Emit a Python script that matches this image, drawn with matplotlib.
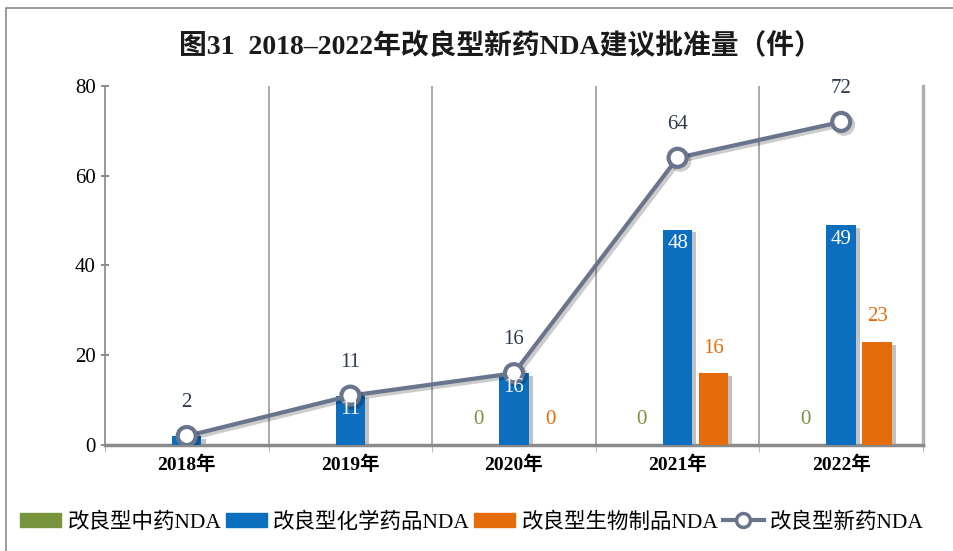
import numpy as np
import matplotlib
matplotlib.use("Agg")
from matplotlib import pyplot as plt
from matplotlib.patches import Patch, Rectangle
from matplotlib.lines import Line2D
import matplotlib.patheffects as pe

plt.rcParams['font.family'] = ['Liberation Serif', 'Noto Sans CJK SC']

years = ['2018年', '2019年', '2020年', '2021年', '2022年']
tcm_nda = [0, 0, 0, 0, 0]
chem_nda = [2, 11, 16, 48, 49]
bio_nda = [0, 0, 0, 16, 23]
total_nda = [2, 11, 16, 64, 72]
# which bars carry a value label in the picture
tcm_labeled = [False, False, True, True, True]
chem_labeled = [False, True, True, True, True]
bio_labeled = [False, False, True, True, True]

names = ['改良型中药NDA', '改良型化学药品NDA', '改良型生物制品NDA', '改良型新药NDA']
c_green = '#77933c'
c_blue = '#0b6ebf'
c_orange = '#e46c0a'
c_line = '#68758c'

fig = plt.figure(figsize=(9.54, 5.51), dpi=100)
# outer frame
fig.patches.append(Rectangle((0.006, -0.01), 1.2, 0.995, transform=fig.transFigure,
                             fill=False, edgecolor='#8a8a8a', linewidth=1.2))
ax = fig.add_axes([0.110, 0.1924, 0.8575, 0.6515])

x = np.arange(len(years))
w = 0.18
off = 0.22
shadow = [pe.SimplePatchShadow(offset=(3, -2), shadow_rgbFace='#9a9a9a', alpha=0.6), pe.Normal()]

ax.bar(x - off, tcm_nda, w, color=c_green, zorder=3, path_effects=shadow)
ax.bar(x, chem_nda, w, color=c_blue, zorder=3, path_effects=shadow)
ax.bar(x + off, bio_nda, w, color=c_orange, zorder=3, path_effects=shadow)

ax.plot(x, total_nda, color=c_line, lw=3, marker='o', ms=13, mfc='white', mec=c_line,
        mew=3, zorder=5,
        path_effects=[pe.SimpleLineShadow(offset=(2, -2), alpha=0.2), pe.Normal()])

fs = 15
for i in range(len(years)):
    ax.annotate(str(total_nda[i]), (x[i], total_nda[i]), xytext=(0, 24), textcoords='offset points',
                ha='center', va='center', fontsize=fs, color='#2f3a4d', zorder=6)
    if chem_labeled[i]:
        ax.annotate(str(chem_nda[i]), (x[i], chem_nda[i]), xytext=(0, -10), textcoords='offset points',
                    ha='center', va='center', fontsize=fs, color='white', zorder=6)
    if tcm_labeled[i]:
        ax.annotate(str(tcm_nda[i]), (x[i] - off, tcm_nda[i]), xytext=(0, 18), textcoords='offset points',
                    ha='center', va='center', fontsize=fs, color=c_green, zorder=6)
    if bio_labeled[i]:
        ax.annotate(str(bio_nda[i]), (x[i] + off, bio_nda[i]), xytext=(0, 18), textcoords='offset points',
                    ha='center', va='center', fontsize=fs, color=c_orange, zorder=6)

ax.set_xlim(-0.5, len(years) - 0.5)
ax.set_ylim(0, 80)
ax.set_yticks([0, 20, 40, 60, 80])
ax.set_xticks(x)
ax.set_xticklabels(years, fontsize=14, fontweight='bold')
ax.tick_params(axis='x', length=0, pad=8)
ax.tick_params(axis='y', labelsize=15, length=6, direction='inout', color='#777777', width=1.2)
ax.set_xticks(np.arange(len(years) + 1) - 0.5, minor=True)
ax.tick_params(axis='x', which='minor', length=5, color='#aaaaaa')

for b in np.arange(1, len(years)) - 0.5:
    ax.axvline(b, color='#9a9a9a', lw=1.2, zorder=1)

ax.spines['top'].set_visible(False)
ax.spines['right'].set_color('#b0b0b0')
ax.spines['right'].set_linewidth(2.5)
ax.spines['left'].set_color('#888888')
ax.spines['left'].set_linewidth(1.2)
ax.spines['bottom'].set_color('#8a8a8a')
ax.spines['bottom'].set_linewidth(2.5)

fig.text(0.525, 0.915, '图31  2018–2022年改良型新药NDA建议批准量（件）', ha='center', va='center',
         fontsize=20, fontweight='bold', color='#1a1a1a')

handles = [Patch(color=c_green), Patch(color=c_blue), Patch(color=c_orange),
           Line2D([], [], color=c_line, lw=3, marker='o', ms=10, mfc='white', mec=c_line, mew=2.5)]
fig.legend(handles, names, loc='center', bbox_to_anchor=(0.495, 0.052), ncol=4, frameon=False,
           fontsize=15.5, handlelength=1.9, handleheight=0.6, handletextpad=0.3, columnspacing=0.2)

fig.savefig('out.png', dpi=100)
